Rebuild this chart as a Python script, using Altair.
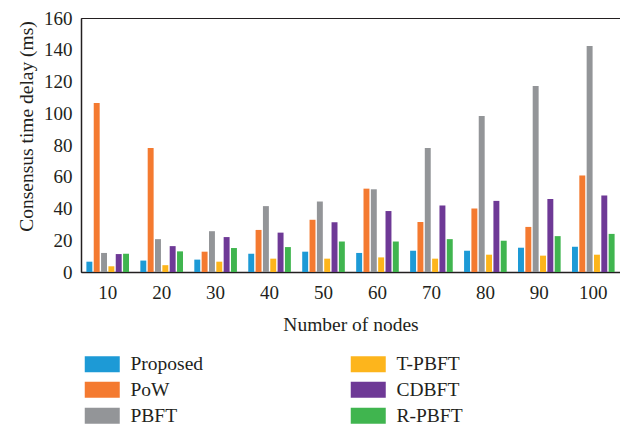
import altair as alt
import pandas as pd

nodes = [10, 20, 30, 40, 50, 60, 70, 80, 90, 100]
series = ["Proposed", "PoW", "PBFT", "T-PBFT", "CDBFT", "R-PBFT"]
proposed = [6.5, 7.2, 7.8, 11.5, 12.8, 12.0, 13.4, 13.4, 15.3, 15.9]
pow_vals = [106.4, 78.1, 12.8, 26.5, 32.9, 52.5, 31.5, 40.0, 28.4, 60.8]
pbft = [12.0, 20.7, 25.7, 41.5, 44.4, 52.1, 78.1, 98.3, 117.2, 142.3]
tpbft = [3.6, 4.3, 6.5, 8.4, 8.4, 9.2, 8.4, 10.9, 10.3, 10.9]
cdbft = [11.3, 16.3, 22.0, 24.8, 31.3, 38.4, 41.9, 44.8, 46.0, 48.2]
rpbft = [11.5, 13.0, 15.1, 15.7, 19.2, 19.2, 20.7, 19.7, 22.6, 24.0]
colors = ["#1d9ad6", "#f47a30", "#939598", "#fdb51c", "#6e3996", "#40b54f"]
y_ticks = [0, 20, 40, 60, 80, 100, 120, 140, 160]

values = [proposed, pow_vals, pbft, tpbft, cdbft, rpbft]
rows = []
for s, vals in zip(series, values):
    for n, v in zip(nodes, vals):
        rows.append({"nodes": n, "series": s, "value": v})
df = pd.DataFrame(rows)

FONT = "Liberation Serif"
INK = "#231f20"

chart = alt.Chart(df).mark_bar().encode(
    x=alt.X("nodes:O", title="Number of nodes",
            scale=alt.Scale(paddingInner=0.21, paddingOuter=0.1),
            axis=alt.Axis(labelAngle=0, ticks=False, tickSize=0, labelPadding=26,
                          labelBaseline="alphabetic", titleBaseline="alphabetic", titleY=58)),
    xOffset=alt.XOffset("series:N", sort=series, scale=alt.Scale(paddingInner=0.19)),
    y=alt.Y("value:Q", title="Consensus time delay (ms)",
            scale=alt.Scale(domain=[0, 160], nice=False),
            axis=alt.Axis(values=y_ticks, ticks=False, tickSize=0, labelPadding=9,
                          titleAngle=-90, titleBaseline="alphabetic", titleAlign="center",
                          titleX=-49, titleY=108)),
    color=alt.Color("series:N",
                    scale=alt.Scale(domain=series, range=colors),
                    legend=alt.Legend(orient="none", legendX=11.5, legendY=336, columns=2,
                                      title=None, padding=0,
                                      symbolType="M-2.1875,-1L2.1875,-1L2.1875,1L-2.1875,1Z",
                                      symbolSize=256, symbolStrokeWidth=0, symbolOpacity=1,
                                      labelFont=FONT, labelFontSize=19.5, labelColor=INK,
                                      labelOffset=18.5, rowPadding=5, columnPadding=147)),
).properties(
    width=539, height=254,
    autosize=alt.AutoSizeParams(type="none"),
    padding={"left": 73, "top": 10, "right": 0, "bottom": 154},
).configure_view(
    stroke=INK, strokeWidth=1
).configure_axis(
    grid=False, domainColor=INK, domainWidth=1.5,
    labelFont=FONT, labelFontSize=19, labelColor=INK,
    titleFont=FONT, titleFontSize=19.5, titleColor=INK, titleFontWeight="normal",
)

chart.save("out.html", embed_options={"renderer": "svg", "actions": False})
